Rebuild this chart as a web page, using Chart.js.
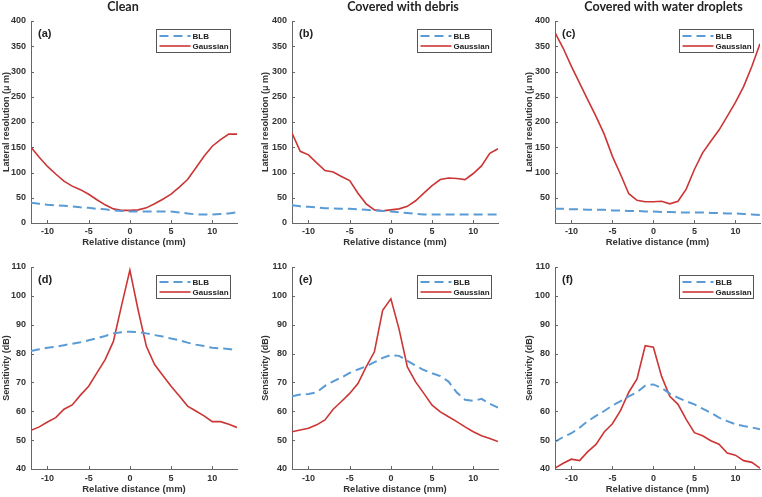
<!DOCTYPE html>
<html>
<head>
<meta charset="utf-8">
<script src="https://cdn.jsdelivr.net/npm/chart.js@4.4.0/dist/chart.umd.min.js"></script>
<style>
body { margin: 0; background: #fff; }
#wrap { position: relative; width: 762px; height: 497px; overflow: hidden; background: #fff; }
canvas { position: absolute; }
</style>
</head>
<body>
<div id="wrap">
  <canvas id="pa" width="240" height="250" style="left:0px;top:0px"></canvas>
  <canvas id="pb" width="242" height="250" style="left:259px;top:0px"></canvas>
  <canvas id="pc" width="239" height="250" style="left:523px;top:0px"></canvas>
  <canvas id="pd" width="240" height="247" style="left:0px;top:250px"></canvas>
  <canvas id="pe" width="242" height="247" style="left:259px;top:250px"></canvas>
  <canvas id="pf" width="239" height="247" style="left:523px;top:250px"></canvas>
</div>
<script>
// x values (relative distance, mm)
var distance = [-12, -11, -10, -9, -8, -7, -6, -5, -4, -3, -2, -1, 0, 1, 2, 3, 4, 5, 6, 7, 8, 9, 10, 11, 12, 13];

// lateral resolution (um)
var blbResA = [40, 38, 36, 35, 34, 33, 31, 30, 28, 27, 25, 24, 23, 23, 23, 23, 23, 23, 21, 19, 17, 17, 17, 18, 19, 21];
var gaussResA = [150, 130, 112, 97, 83, 73, 66, 57, 46, 36, 28, 25, 25, 26, 30, 38, 47, 57, 71, 86, 109, 132, 152, 165, 176, 176];
var blbResB = [35, 33, 32, 31, 29, 29, 28, 28, 27, 26, 25, 24, 23, 21, 20, 18, 17, 17, 17, 17, 17, 17, 17, 17, 17, 17];
var gaussResB = [178, 142, 135, 119, 104, 101, 92, 84, 59, 38, 26, 24, 26, 28, 33, 44, 59, 74, 86, 89, 88, 86, 98, 113, 138, 147];
var blbResC = [28, 28, 27, 27, 26, 26, 26, 25, 25, 24, 24, 23, 23, 22, 22, 21, 21, 21, 21, 20, 20, 19, 19, 18, 17, 16];
var gaussResC = [377, 346, 310, 277, 244, 211, 176, 132, 96, 58, 45, 42, 42, 43, 38, 43, 67, 106, 139, 162, 184, 211, 239, 270, 310, 355];

// sensitivity (dB)
var blbSensD = [80.9, 81.5, 82.0, 82.4, 82.9, 83.4, 83.9, 84.6, 85.3, 86.1, 87.0, 87.4, 87.6, 87.4, 87.0, 86.4, 85.9, 85.2, 84.6, 83.8, 83.1, 82.6, 82.0, 81.8, 81.6, 81.2];
var gaussSensD = [53.4, 54.6, 56.3, 57.8, 60.7, 62.2, 65.6, 68.7, 73.3, 77.9, 84.2, 96.8, 108.9, 95.1, 82.5, 76.2, 72.4, 68.7, 65.3, 61.8, 60.1, 58.4, 56.4, 56.4, 55.5, 54.4];
var blbSensE = [65.2, 65.8, 66.0, 66.6, 68.8, 70.4, 71.7, 73.3, 74.5, 75.6, 77.0, 78.5, 79.5, 79.2, 77.5, 75.8, 74.3, 73.2, 72.2, 70.3, 66.5, 64.0, 63.6, 64.3, 62.6, 61.3];
var gaussSensE = [52.9, 53.5, 54.1, 55.3, 57.0, 60.7, 63.4, 66.2, 69.6, 75.4, 80.6, 95.0, 99.0, 88.4, 75.4, 70.2, 66.2, 62.1, 59.8, 58.1, 56.4, 54.6, 52.9, 51.5, 50.6, 49.5];
var blbSensF = [49.4, 51.1, 52.4, 54.3, 56.6, 58.4, 60.1, 62.0, 63.5, 65.2, 66.6, 68.9, 69.3, 68.1, 66.1, 64.7, 63.5, 62.4, 60.9, 59.5, 57.8, 56.6, 55.5, 54.9, 54.4, 53.8];
var gaussSensF = [40.3, 42.0, 43.4, 42.9, 46.0, 48.5, 52.8, 55.7, 60.3, 66.6, 71.2, 82.7, 82.2, 72.1, 65.2, 62.4, 57.2, 52.6, 51.5, 49.8, 48.6, 45.5, 44.8, 42.9, 42.3, 40.3];

// ticks and labels
var xTicks = [-10, -5, 0, 5, 10];
var resTicks = [0, 50, 100, 150, 200, 250, 300, 350, 400];
var resTicksC = [50, 100, 150, 200, 250, 300, 350, 400];
var sensTicks = [40, 50, 60, 70, 80, 90, 100, 110];
var columnTitles = ['Clean', 'Covered with debris', 'Covered with water droplets'];
var panelLabels = ['(a)', '(b)', '(c)', '(d)', '(e)', '(f)'];
var seriesNames = ['BLB', 'Gaussian'];

Chart.defaults.font.family = "'Liberation Sans', Arial, sans-serif";
Chart.defaults.font.weight = 'bold';
Chart.defaults.font.size = 9;
Chart.defaults.color = '#333';

var BLUE = '#5b9bd5';
var RED = '#cc3535';
var AXIS = '#666';

// titles, panel letters, boxed legend and inward tick marks
var panelDecor = {
    id: 'panelDecor',
    afterDraw: function (chart, args, opts) {
        var ctx = chart.ctx;
        var area = chart.chartArea;
        ctx.save();
        // inward ticks
        ctx.strokeStyle = AXIS;
        ctx.lineWidth = 1;
        var xs = chart.scales.x, ys = chart.scales.y;
        ctx.beginPath();
        xs.ticks.forEach(function (t) {
            var px = Math.round(xs.getPixelForValue(t.value)) + 0.5;
            ctx.moveTo(px, area.bottom);
            ctx.lineTo(px, area.bottom - 3);
        });
        ys.ticks.forEach(function (t) {
            var py = Math.round(ys.getPixelForValue(t.value)) + 0.5;
            ctx.moveTo(area.left, py);
            ctx.lineTo(area.left + 3, py);
        });
        ctx.stroke();
        // column title
        if (opts.title) {
            ctx.fillStyle = '#222';
            ctx.font = "bold 12.5px Lato, 'Open Sans', sans-serif";
            ctx.textAlign = 'center';
            ctx.textBaseline = 'middle';
            ctx.fillText(opts.title, (area.left + area.right) / 2 + opts.titleDx, 7);
        }
        // panel letter
        ctx.fillStyle = '#222';
        ctx.font = "bold 11px 'Liberation Sans', Arial, sans-serif";
        ctx.textAlign = 'left';
        ctx.textBaseline = 'middle';
        ctx.fillText(opts.label, area.left + 7, area.top + 13);
        // legend box
        var bw = 74, bh = 23;
        var bx = Math.round(area.right - 7 - bw) + 0.5;
        var by = Math.round(area.top + 8) + 0.5;
        ctx.fillStyle = '#fff';
        ctx.fillRect(bx, by, bw, bh);
        ctx.strokeStyle = '#555';
        ctx.lineWidth = 1;
        ctx.setLineDash([]);
        ctx.strokeRect(bx, by, bw, bh);
        ctx.font = "bold 8px 'Liberation Sans', Arial, sans-serif";
        chart.data.datasets.forEach(function (ds, i) {
            var ly = by + 6.5 + i * 10;
            ctx.strokeStyle = ds.borderColor;
            ctx.lineWidth = ds.borderWidth;
            ctx.setLineDash(ds.borderDash || []);
            ctx.beginPath();
            ctx.moveTo(bx + 3, ly);
            ctx.lineTo(bx + 34, ly);
            ctx.stroke();
            ctx.fillStyle = '#222';
            ctx.fillText(ds.label, bx + 36, ly + 0.5);
        });
        ctx.restore();
    }
};

function makePanel(id, blb, gauss, p) {
    var pts = function (arr) {
        return distance.map(function (d, i) { return { x: d, y: arr[i] }; });
    };
    return new Chart(document.getElementById(id), {
        type: 'line',
        data: {
            datasets: [{
                label: seriesNames[0],
                data: pts(blb),
                borderColor: BLUE,
                borderWidth: 2,
                borderDash: [9, 5],
                pointRadius: 0,
                tension: 0
            }, {
                label: seriesNames[1],
                data: pts(gauss),
                borderColor: RED,
                borderWidth: 1.6,
                pointRadius: 0,
                tension: 0
            }]
        },
        options: {
            responsive: false,
            animation: false,
            layout: { padding: { top: p.padTop, right: p.padRight, bottom: 0, left: 0 } },
            plugins: {
                legend: { display: false },
                tooltip: { enabled: false },
                panelDecor: { title: p.title, titleDx: p.titleDx, label: p.label }
            },
            scales: {
                x: {
                    type: 'linear',
                    min: -12,
                    max: 13,
                    grid: { display: false, drawTicks: false },
                    border: { color: AXIS, width: 1 },
                    afterBuildTicks: function (s) { s.ticks = xTicks.map(function (v) { return { value: v }; }); },
                    afterFit: function (s) { s.height = p.xHeight; },
                    ticks: { padding: p.xPad, color: '#333', font: { size: 9, weight: 'bold' } },
                    title: {
                        display: true,
                        text: 'Relative distance (mm)',
                        color: '#333',
                        font: { size: 9.5, weight: 'bold' },
                        padding: { top: 0, bottom: 1.5 }
                    }
                },
                y: {
                    min: p.yMin,
                    max: p.yMax,
                    grid: { display: false, drawTicks: false },
                    border: { color: AXIS, width: 1 },
                    afterBuildTicks: function (s) { s.ticks = p.yTicks.map(function (v) { return { value: v }; }); },
                    afterFit: function (s) { s.width = p.yWidth; },
                    ticks: { padding: 5, color: '#333', font: { size: 9, weight: 'bold' } },
                    title: {
                        display: true,
                        text: p.yTitle,
                        color: '#333',
                        font: { size: 9, weight: 'bold' },
                        padding: { top: 1, bottom: 0 }
                    }
                }
            }
        },
        plugins: [panelDecor]
    });
}

var colYWidth = [31, 33, 32];
var colPadRight = [3, 3, 2];
var colTitleDx = [-11, 8, 6];
var resTitle = 'Lateral resolution (\u03bc m)';
var sensTitle = 'Sensitivity (dB)';

var topRow = [['pa', blbResA, gaussResA, resTicks], ['pb', blbResB, gaussResB, resTicks], ['pc', blbResC, gaussResC, resTicksC]];
var botRow = [['pd', blbSensD, gaussSensD], ['pe', blbSensE, gaussSensE], ['pf', blbSensF, gaussSensF]];

topRow.forEach(function (r, i) {
    makePanel(r[0], r[1], r[2], {
        padTop: 21, padRight: colPadRight[i], xHeight: 27, xPad: 3,
        yWidth: colYWidth[i], yMin: 0, yMax: 400, yTicks: r[3], yTitle: resTitle,
        title: columnTitles[i], titleDx: colTitleDx[i], label: panelLabels[i]
    });
});
botRow.forEach(function (r, i) {
    makePanel(r[0], r[1], r[2], {
        padTop: 17, padRight: colPadRight[i], xHeight: 28, xPad: 4,
        yWidth: colYWidth[i], yMin: 40, yMax: 110, yTicks: sensTicks, yTitle: sensTitle,
        title: null, titleDx: 0, label: panelLabels[i + 3]
    });
});
</script>
</body>
</html>
